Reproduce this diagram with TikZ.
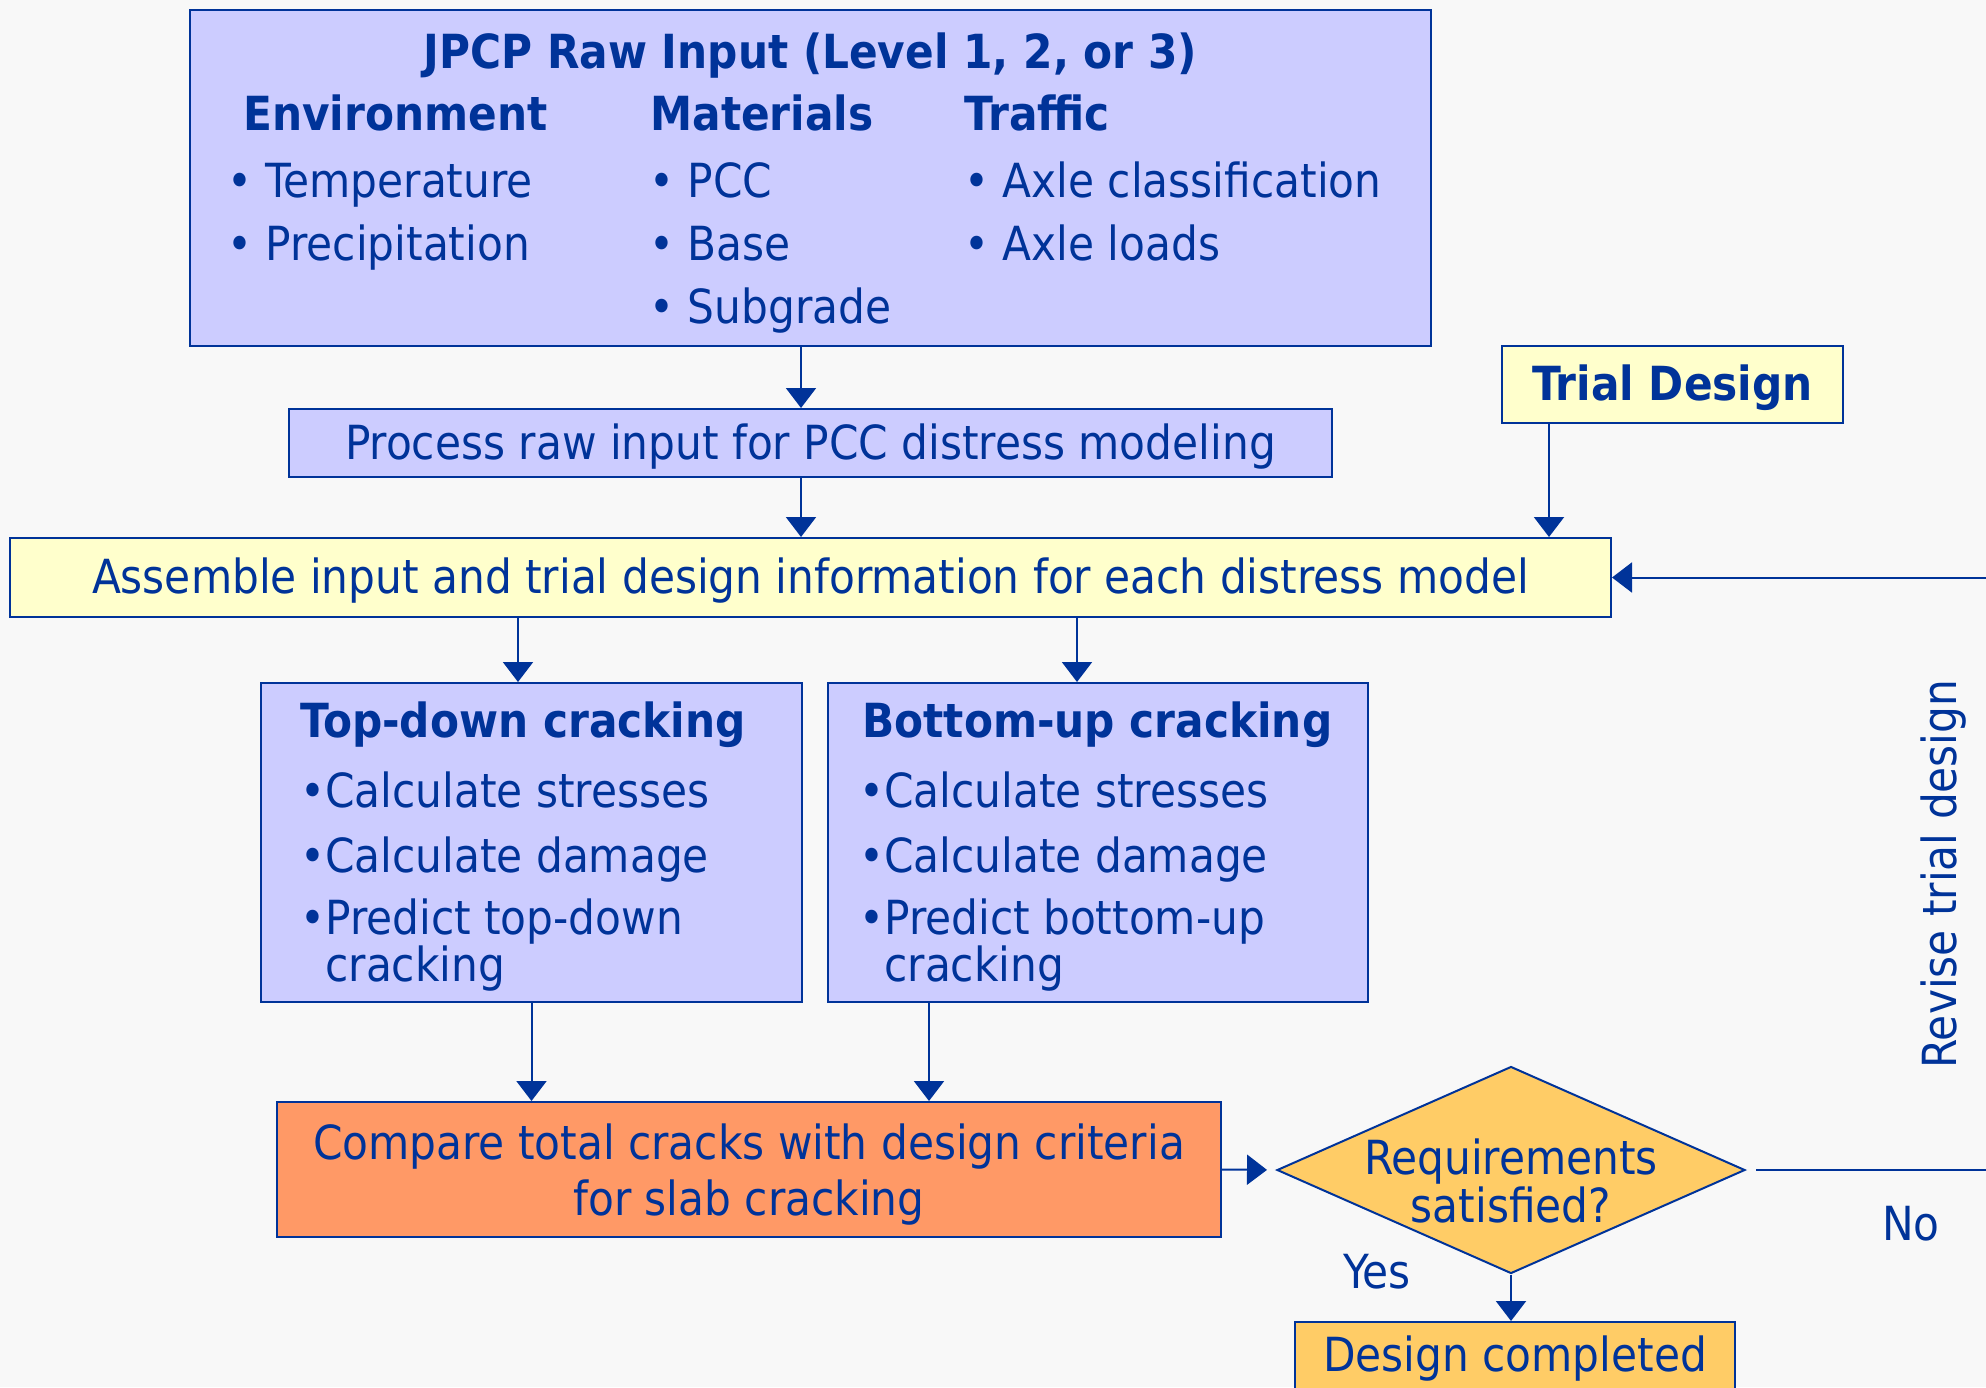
\documentclass[tikz,border=0pt]{standalone}
\usepackage{fontspec}
\setmainfont{DejaVu Sans Condensed}
\usetikzlibrary{shapes.geometric,arrows.meta,calc}
\definecolor{jblue}{RGB}{0,51,153}
\definecolor{lavender}{RGB}{204,204,255}
\definecolor{paleyellow}{RGB}{255,255,204}
\definecolor{salmon}{RGB}{255,153,102}
\definecolor{gold}{RGB}{255,204,102}
\definecolor{bgray}{RGB}{248,248,248}
\newcommand{\twolines}[2]{\vtop{\baselineskip=23.5pt\lineskiplimit=-100pt\hbox{#1}\hbox{#2}}}
\tikzset{
  txt/.style={text=jblue, font=\fontsize{23.5}{28}\selectfont, inner sep=0pt},
  hd/.style={txt, font=\fontsize{23.5}{28}\selectfont\bfseries},
  box/.style={draw=jblue, line width=1pt, txt, align=center},
  inbox/.style={box, fill=lavender},
  ybox/.style={box, fill=paleyellow},
  flow/.style={draw=jblue, line width=1pt, -{Triangle[width=15pt,length=10pt]}},
}
\begin{document}
\begin{tikzpicture}[x=0.5pt, y=-0.5pt]
  \fill[bgray] (0,0) rectangle (1986,1387);
  \useasboundingbox (0,0) rectangle (1986,1387);

  % raw input
  \node[inbox, minimum width=620.5pt, minimum height=168pt] (raw) at (810.5,178) {};
  \node[hd, anchor=base] (rawtitle) at (810.5,68) {JPCP Raw Input (Level 1, 2, or 3)};
  \node[hd, anchor=base west] (env) at (243,130) {Environment};
  \node[hd, anchor=base west] (mat) at (650,130) {Materials};
  \node[hd, anchor=base west] (traf) at (964,130) {Traffic};
  \foreach \t [count=\i] in {Temperature, Precipitation}
    \node[txt, anchor=base west] (env\i) at (227,{197+63*(\i-1)}) {• \t};
  \foreach \t [count=\i] in {PCC, Base, Subgrade}
    \node[txt, anchor=base west] (mat\i) at (649,{197+63*(\i-1)}) {• \t};
  \foreach \t [count=\i] in {Axle classification, Axle loads}
    \node[txt, anchor=base west] (traf\i) at (964,{197+63*(\i-1)}) {• \t};

  \node[inbox, minimum width=521.5pt, minimum height=34pt, text height=21pt] (process) at (810.5,443)
    {Process raw input for PCC distress modeling};
  \node[ybox, minimum width=170.5pt, minimum height=38.5pt, text height=21pt,
    font=\fontsize{23.5}{28}\selectfont\bfseries] (trial) at (1672.5,384.5) {Trial Design};
  \node[ybox, minimum width=800.5pt, minimum height=39.5pt, text height=21pt] (assemble) at (810.5,577.5)
    {Assemble input and trial design information for each distress model};

  % distress models
  \node[inbox, minimum width=270.5pt, minimum height=159.5pt] (topdown) at (531.5,842.5) {};
  \node[hd, anchor=base west] (toptitle) at (300,737) {Top-down cracking};
  \node[txt, anchor=base west] (top1) at (300,807) {•Calculate stresses};
  \node[txt, anchor=base west] (top2) at (300,872) {•Calculate damage};
  \node[txt, anchor=base west] (top3) at (300,934) {\twolines{•Predict top-down}{\hphantom{•}cracking}};

  \node[inbox, minimum width=270pt, minimum height=159.5pt] (bottomup) at (1098,842.5) {};
  \node[hd, anchor=base west] (bottitle) at (862,737) {Bottom-up cracking};
  \node[txt, anchor=base west] (bot1) at (859,807) {•Calculate stresses};
  \node[txt, anchor=base west] (bot2) at (859,872) {•Calculate damage};
  \node[txt, anchor=base west] (bot3) at (859,934) {\twolines{•Predict bottom-up}{\hphantom{•}cracking}};

  \node[box, fill=salmon, minimum width=472pt, minimum height=67.5pt] (compare) at (749,1169.5) {};
  \node[txt, align=center] (comparetxt) at (749,1175)
    {Compare total cracks with design criteria\\for slab cracking};
  \node[box, shape=diamond, fill=gold, minimum width=234pt, minimum height=103.5pt] (check) at (1511,1170) {};
  \node[txt, align=center, font=\fontsize{23.5}{21.5}\selectfont] (checktxt) at (1511,1181) {Requirements\\satisfied?};
  \node[box, fill=gold, anchor=north, minimum width=220pt, inner ysep=7pt] (done) at (1515,1321)
    {Design completed};

  \node[txt] (yes) at (1377,1272) {Yes};
  \node[txt] (no) at (1911,1224) {No};
  \node[txt, rotate=90] (revise) at (1944,874) {Revise trial design};

  % connectors
  \draw[flow] ($(raw.south)+(-9.5,0)$) -- ($(process.north)+(-9.5,0)$);
  \draw[flow] ($(process.south)+(-9.5,0)$) -- ($(assemble.north)+(-9.5,0)$);
  \draw[flow] ($(trial.south)+(-123.5,0)$) -- ($(trial.south |- assemble.north)+(-123.5,0)$);
  \draw[flow] ($(topdown.north |- assemble.south)+(-13.5,0)$) -- ($(topdown.north)+(-13.5,0)$);
  \draw[flow] ($(bottomup.north |- assemble.south)+(-21,0)$) -- ($(bottomup.north)+(-21,0)$);
  \draw[flow] (topdown.south) -- (topdown.south |- compare.north);
  \draw[flow] ($(bottomup.south)+(-169,0)$) -- ($(bottomup.south |- compare.north)+(-169,0)$);
  \draw[flow, shorten >=4.5pt] (compare.east) -- (check.west);
  \draw[flow] (check.south) -- (check.south |- done.north);
  \draw[flow] ([xshift=5pt]check.east) -- ++(280,0) |- (assemble.east);
\end{tikzpicture}
\end{document}
